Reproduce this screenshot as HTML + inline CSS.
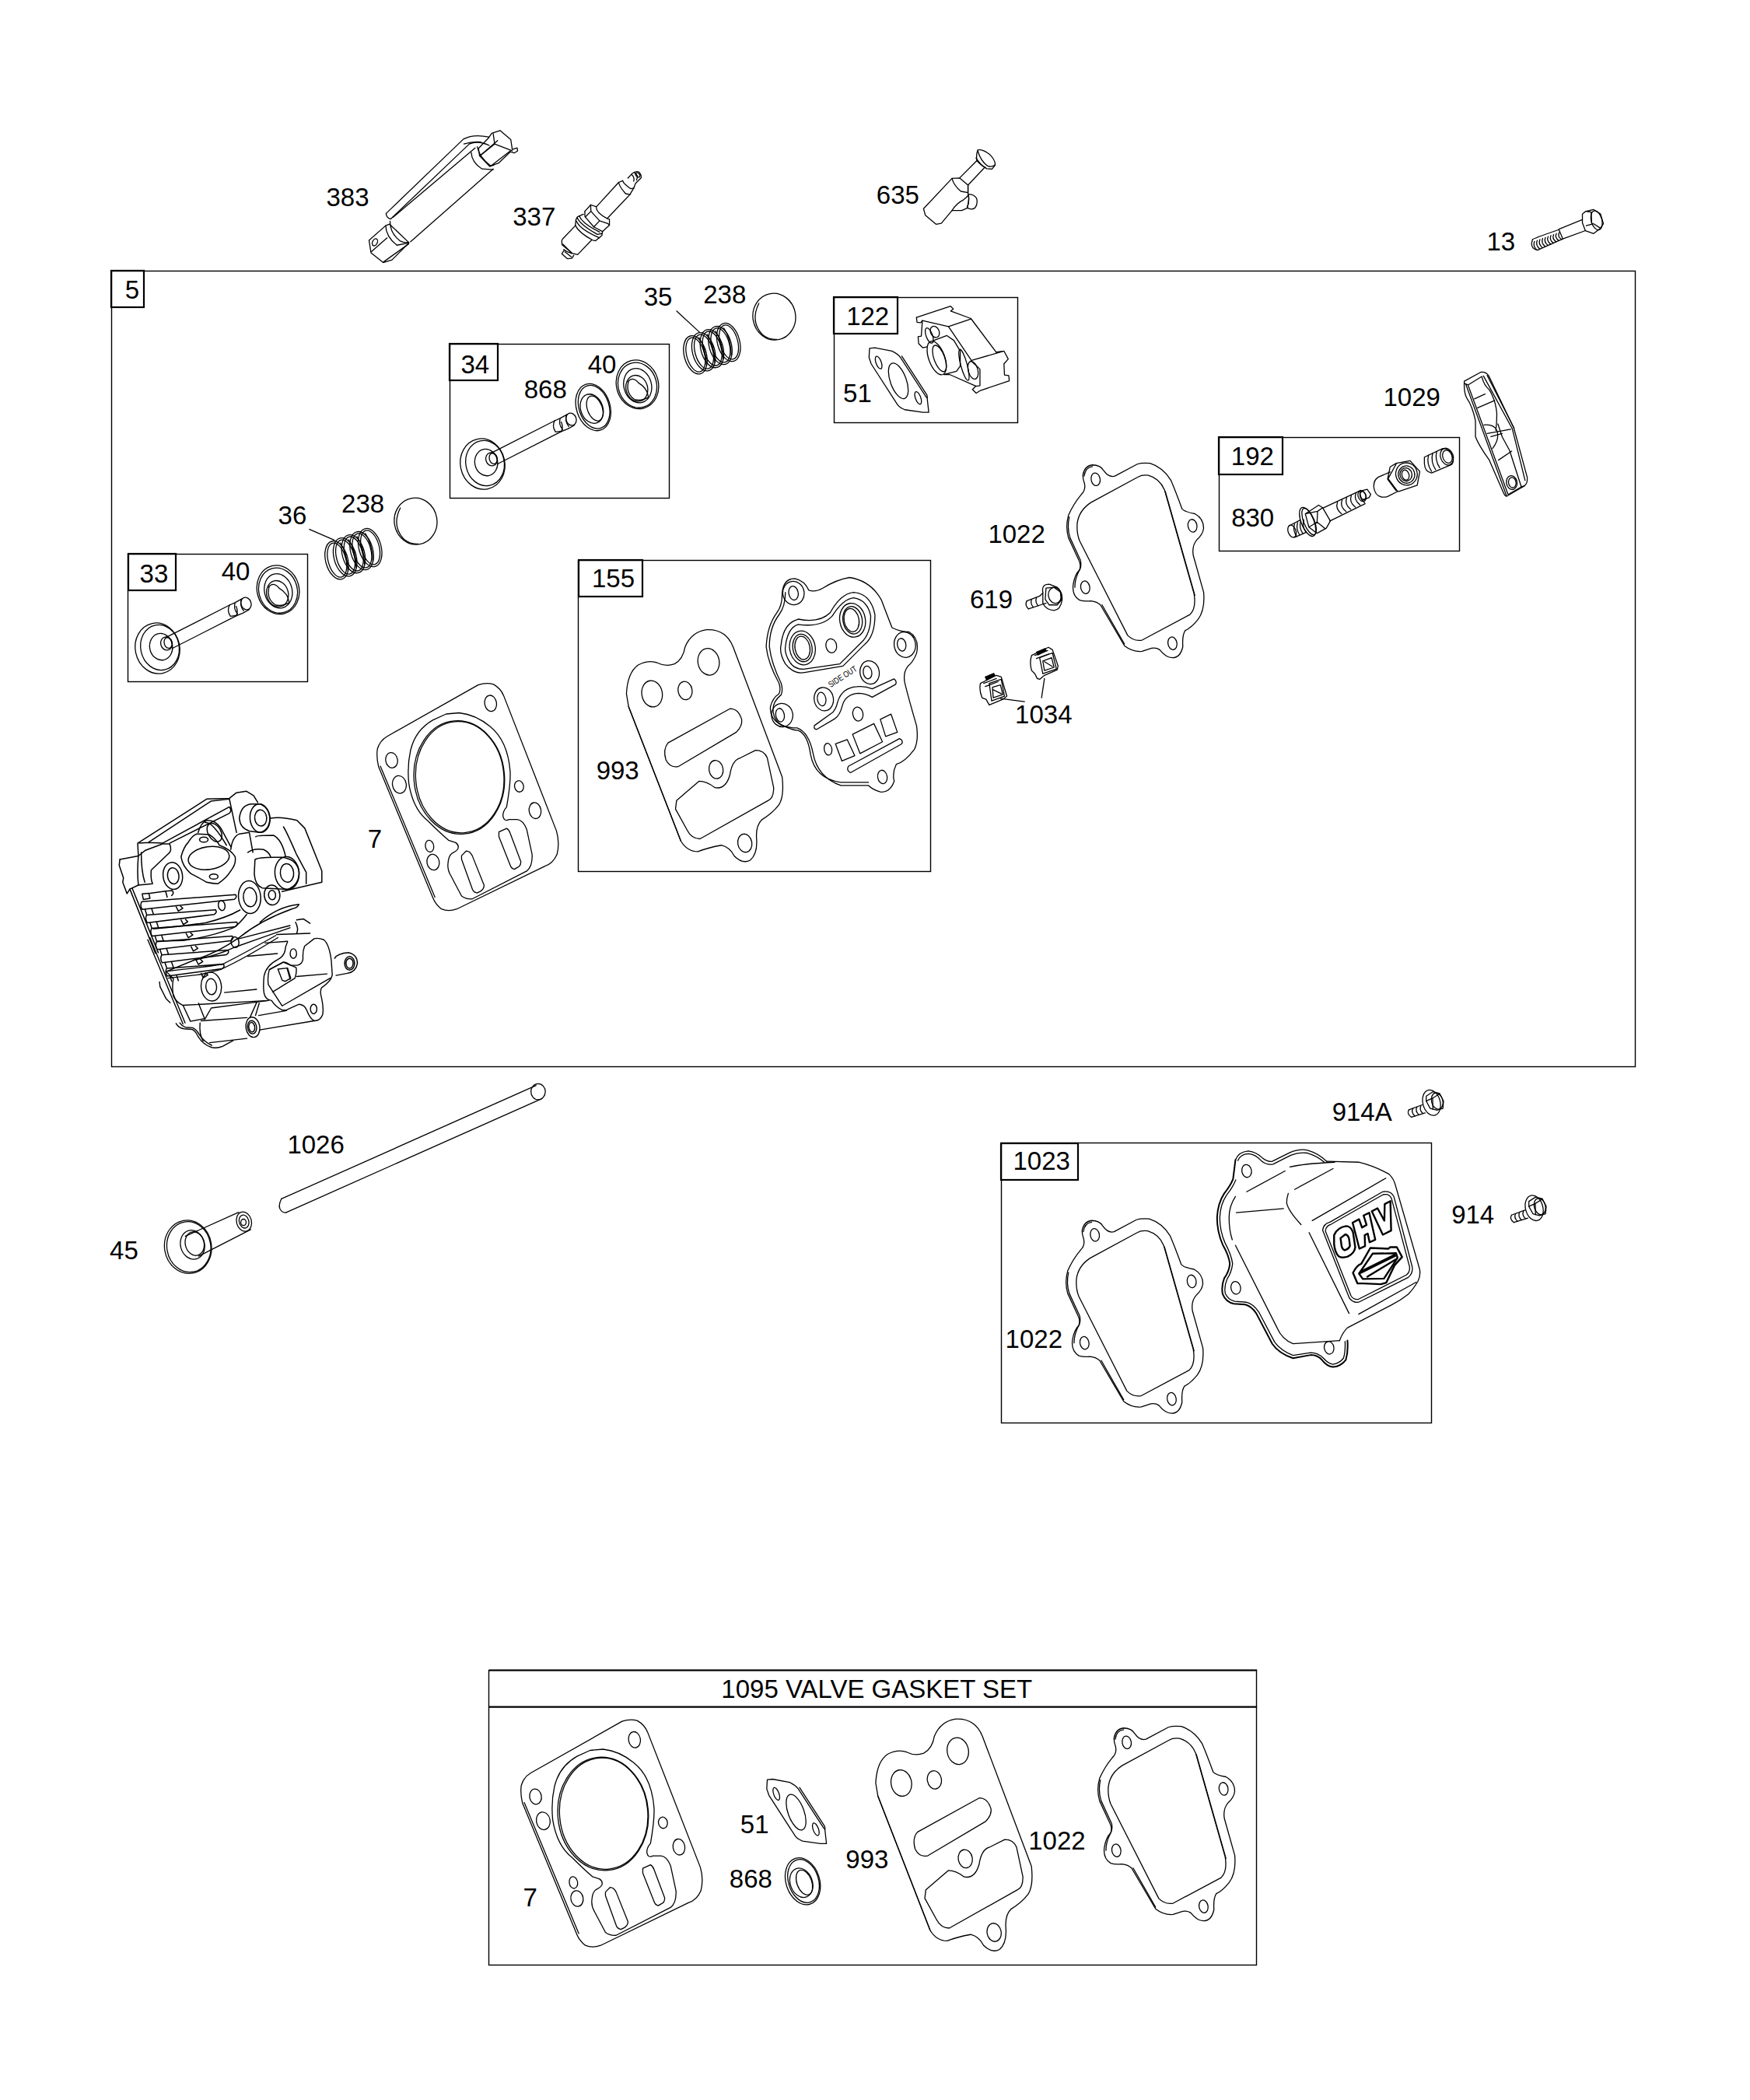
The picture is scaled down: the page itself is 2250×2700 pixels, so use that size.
<!DOCTYPE html><html><head><meta charset="utf-8"><style>html,body{margin:0;padding:0;background:#fff;}svg{display:block;}text{font-family:"Liberation Sans",sans-serif;font-size:33px;fill:#000;}</style></head><body>
<svg width="2250" height="2700" viewBox="0 0 2250 2700">
<rect width="2250" height="2700" fill="#fff"/>
<g fill="none" stroke="#000">
<rect x="143.5" y="348.5" width="1959.0" height="1023.0" stroke-width="1.4"/>
<rect x="143" y="348" width="42" height="47" stroke-width="2.2"/>
<rect x="578.5" y="442.5" width="282.0" height="198.0" stroke-width="1.4"/>
<rect x="578" y="442" width="62" height="47" stroke-width="2.2"/>
<rect x="1072.5" y="382.5" width="236.0" height="161.0" stroke-width="1.4"/>
<rect x="1072" y="382" width="82" height="47" stroke-width="2.2"/>
<rect x="164.5" y="712.5" width="231.0" height="164.0" stroke-width="1.4"/>
<rect x="165" y="712" width="61" height="47" stroke-width="2.2"/>
<rect x="743.5" y="720.5" width="453.0" height="400.0" stroke-width="1.4"/>
<rect x="744" y="720" width="82" height="47" stroke-width="2.2"/>
<rect x="1567.5" y="562.5" width="309.0" height="146.0" stroke-width="1.4"/>
<rect x="1567" y="562" width="82" height="48" stroke-width="2.2"/>
<rect x="1287.5" y="1469.5" width="553.0" height="360.0" stroke-width="1.4"/>
<rect x="1287" y="1470" width="99" height="47" stroke-width="2.2"/>
<rect x="628.5" y="2147.5" width="987" height="379" stroke-width="1.4"/>
<line x1="628.7" y1="2147.5" x2="1616.1" y2="2147.5" stroke-width="2.2"/>
<line x1="628.7" y1="2194.6" x2="1616.1" y2="2194.6" stroke-width="2.4"/>
</g>
<text x="170.0" y="383.7" text-anchor="middle">5</text>
<text x="447.0" y="265.0" text-anchor="middle">383</text>
<text x="686.8" y="289.6" text-anchor="middle">337</text>
<text x="1154.4" y="262.0" text-anchor="middle">635</text>
<text x="1929.8" y="322.0" text-anchor="middle">13</text>
<text x="846.0" y="393.4" text-anchor="middle">35</text>
<text x="931.8" y="390.0" text-anchor="middle">238</text>
<text x="1115.7" y="418.0" text-anchor="middle">122</text>
<text x="1102.4" y="516.6" text-anchor="middle">51</text>
<text x="610.8" y="480.3" text-anchor="middle">34</text>
<text x="701.3" y="512.3" text-anchor="middle">868</text>
<text x="774.0" y="480.0" text-anchor="middle">40</text>
<text x="1815.2" y="521.7" text-anchor="middle">1029</text>
<text x="1610.4" y="597.6" text-anchor="middle">192</text>
<text x="1610.7" y="677.3" text-anchor="middle">830</text>
<text x="375.9" y="674.0" text-anchor="middle">36</text>
<text x="466.6" y="658.6" text-anchor="middle">238</text>
<text x="197.9" y="748.6" text-anchor="middle">33</text>
<text x="303.0" y="746.0" text-anchor="middle">40</text>
<text x="1307.1" y="698.0" text-anchor="middle">1022</text>
<text x="1274.5" y="781.5" text-anchor="middle">619</text>
<text x="788.5" y="754.9" text-anchor="middle">155</text>
<text x="1341.8" y="929.6" text-anchor="middle">1034</text>
<text x="794.2" y="1001.7" text-anchor="middle">993</text>
<text x="482.0" y="1089.7" text-anchor="middle">7</text>
<text x="406.1" y="1482.5" text-anchor="middle">1026</text>
<text x="159.4" y="1618.6" text-anchor="middle">45</text>
<text x="1751.2" y="1440.9" text-anchor="middle">914A</text>
<text x="1339.2" y="1504.2" text-anchor="middle">1023</text>
<text x="1893.7" y="1572.5" text-anchor="middle">914</text>
<text x="1329.3" y="1732.6" text-anchor="middle">1022</text>
<text x="681.6" y="2450.6" text-anchor="middle">7</text>
<text x="970.2" y="2357.3" text-anchor="middle">51</text>
<text x="965.4" y="2426.7" text-anchor="middle">868</text>
<text x="1114.9" y="2402.0" text-anchor="middle">993</text>
<text x="1358.9" y="2378.1" text-anchor="middle">1022</text>
<text x="1127.3" y="2182.5" text-anchor="middle">1095 VALVE GASKET SET</text>
<g transform="translate(460,160) scale(0.125714)" fill="none" stroke="#000" stroke-width="1.3" stroke-linejoin="round" stroke-linecap="round"><path vector-effect="non-scaling-stroke" d="M290,910 L1080,150 Q1180,95 1340,128" /><path vector-effect="non-scaling-stroke" d="M290,910 Q290,950 335,968 L1140,200 Q1230,160 1345,215" /><path vector-effect="non-scaling-stroke" d="M1085,200 Q1180,170 1260,180" /><path vector-effect="non-scaling-stroke" d="M360,950 L1200,240" /><path vector-effect="non-scaling-stroke" d="M540,1200 L1385,455" /><path vector-effect="non-scaling-stroke" d="M330,990 Q330,1110 430,1190 Q480,1215 520,1205" /><path vector-effect="non-scaling-stroke" d="M285,1035 Q290,1150 400,1235 L520,1212" /><path vector-effect="non-scaling-stroke" d="M115,1185 L285,1035 L325,1020 L525,1210 L350,1385 L260,1412 L135,1312 Z" /><path vector-effect="non-scaling-stroke" d="M140,1300 L300,1160" /><path vector-effect="non-scaling-stroke" d="M265,1405 L520,1222" /><ellipse vector-effect="non-scaling-stroke" cx="175" cy="1205" rx="25" ry="38" transform="rotate(25 175 1205)" /><path vector-effect="non-scaling-stroke" d="M1160,285 Q1165,390 1270,455 L1385,462" /><path vector-effect="non-scaling-stroke" d="M1222,228 Q1240,330 1355,420 L1390,418" /><path vector-effect="non-scaling-stroke" d="M1250,320 L1430,165 M1360,425 L1560,270" /><path vector-effect="non-scaling-stroke" d="M1340,135 L1370,90 L1455,62 L1565,155 L1580,255 L1630,240 L1635,270 L1600,292 L1560,280 L1440,395 L1370,420 L1350,430 L1245,320 L1235,245 Z" /><path vector-effect="non-scaling-stroke" d="M1385,95 L1400,200 L1580,270 M1400,200 L1250,320" /></g>
<g transform="translate(710,210) scale(0.074286)" fill="none" stroke="#000" stroke-width="1.3" stroke-linejoin="round" stroke-linecap="round"><path vector-effect="non-scaling-stroke" d="M770,745 L1150,330 L1220,300" /><path vector-effect="non-scaling-stroke" d="M960,945 L1345,540 L1410,430" /><path vector-effect="non-scaling-stroke" d="M1150,330 Q1160,400 1270,525 L1345,540" /><path vector-effect="non-scaling-stroke" d="M1220,300 Q1230,350 1360,440 L1410,430" /><path vector-effect="non-scaling-stroke" d="M1310,255 L1380,180 Q1440,130 1500,150 Q1545,190 1540,250 L1440,350 L1410,430" /><path vector-effect="non-scaling-stroke" d="M1375,195 Q1430,240 1410,310 M1420,160 Q1500,200 1460,290" /><ellipse vector-effect="non-scaling-stroke" cx="1480" cy="200" rx="30" ry="45" transform="rotate(-45 1480 200)" /><path vector-effect="non-scaling-stroke" d="M565,830 L665,720 L760,750 Q760,860 960,960 L990,965 L990,1070 L870,1180" /><path vector-effect="non-scaling-stroke" d="M565,830 L565,920 L720,1100 L870,1180" /><path vector-effect="non-scaling-stroke" d="M665,720 L670,830 L820,995 L960,1040 L990,1070 M820,995 L720,1100 M670,830 L575,925" /><path vector-effect="non-scaling-stroke" d="M400,1075 L410,975 L440,925 L540,880" /><path vector-effect="non-scaling-stroke" d="M400,1075 Q460,1200 700,1330 L750,1340 L860,1250 L870,1180" /><path vector-effect="non-scaling-stroke" d="M430,935 Q480,1060 780,1230 L860,1215" /><path vector-effect="non-scaling-stroke" d="M470,915 Q520,1040 820,1190 M420,1000 Q470,1140 820,1290" /><path vector-effect="non-scaling-stroke" d="M400,1078 L180,1310 L165,1340 L170,1410 L345,1555 L440,1580 L680,1330" /><path vector-effect="non-scaling-stroke" d="M210,1500 L165,1565 L260,1650 L340,1645 L375,1590" /><path vector-effect="non-scaling-stroke" d="M200,1490 Q260,1540 340,1560 M185,1400 L330,1545 M220,1530 L330,1620" /></g>
<g transform="translate(1120,170) scale(0.114286)" fill="none" stroke="#000" stroke-width="1.3" stroke-linejoin="round" stroke-linecap="round"><path vector-effect="non-scaling-stroke" d="M590,860 L910,520 L995,515 L1090,595 L1090,680 M1090,850 L1020,880 L910,880 L790,1025 L730,1035 L610,935 L590,860" /><path vector-effect="non-scaling-stroke" d="M1095,700 Q1150,695 1185,740 Q1205,800 1170,850 Q1130,880 1080,850 M1090,595 L1090,690 Q1110,760 1080,850" /><path vector-effect="non-scaling-stroke" d="M910,520 Q930,600 1010,665 L1090,680" /><path vector-effect="non-scaling-stroke" d="M910,880 Q960,800 1040,760 Q1090,720 1095,700 Q1110,780 1080,850" /><path vector-effect="non-scaling-stroke" d="M995,515 L1190,320 M1090,595 L1270,405" /><path vector-effect="non-scaling-stroke" d="M1190,320 Q1180,250 1200,200 Q1260,190 1340,255 Q1400,320 1395,370 L1360,415 L1300,410 Q1220,360 1190,320" /><path vector-effect="non-scaling-stroke" d="M1180,290 Q1240,380 1290,400 M1200,210 Q1230,320 1310,380 Q1360,395 1390,370" /></g>
<g transform="translate(1900,250) scale(0.125714)" fill="none" stroke="#000" stroke-width="1.3" stroke-linejoin="round" stroke-linecap="round"><path vector-effect="non-scaling-stroke" d="M830,355 L1065,260 M870,455 L1100,370" /><path vector-effect="non-scaling-stroke" d="M560,460 Q570,450 830,360 L870,455 L610,570 Q550,560 550,500 Z" /><path vector-effect="non-scaling-stroke" d="M580,480 Q560,530 605,568" /><path vector-effect="non-scaling-stroke" d="M608,470 Q588,519 633,556" /><path vector-effect="non-scaling-stroke" d="M636,460 Q616,508 661,544" /><path vector-effect="non-scaling-stroke" d="M664,450 Q644,497 689,532" /><path vector-effect="non-scaling-stroke" d="M692,440 Q672,486 717,520" /><path vector-effect="non-scaling-stroke" d="M720,430 Q700,475 745,508" /><path vector-effect="non-scaling-stroke" d="M748,420 Q728,464 773,496" /><path vector-effect="non-scaling-stroke" d="M776,410 Q756,453 801,484" /><path vector-effect="non-scaling-stroke" d="M804,400 Q784,442 829,472" /><path vector-effect="non-scaling-stroke" d="M832,390 Q812,431 857,460" /><path vector-effect="non-scaling-stroke" d="M1070,200 L1100,175 L1185,155 L1255,200 L1285,300 L1250,350 L1185,400 L1100,370 L1070,290 Z" /><ellipse vector-effect="non-scaling-stroke" cx="1215" cy="265" rx="55" ry="100" transform="rotate(-15 1215 265)" /><path vector-effect="non-scaling-stroke" d="M1110,320 L1185,300 L1255,345 M1120,175 L1160,180 L1165,300" /></g>
<g transform="translate(870,400) scale(0.057143)" fill="none" stroke="#000" stroke-width="1.3" stroke-linejoin="round" stroke-linecap="round"><ellipse vector-effect="non-scaling-stroke" cx="420" cy="985" rx="250" ry="440" transform="rotate(-15 420 985)" /><ellipse vector-effect="non-scaling-stroke" cx="426" cy="982" rx="200" ry="395" transform="rotate(-15 426 982)" /><ellipse vector-effect="non-scaling-stroke" cx="607" cy="914" rx="250" ry="440" transform="rotate(-15 607 914)" /><ellipse vector-effect="non-scaling-stroke" cx="613" cy="911" rx="200" ry="395" transform="rotate(-15 613 911)" /><ellipse vector-effect="non-scaling-stroke" cx="794" cy="843" rx="250" ry="440" transform="rotate(-15 794 843)" /><ellipse vector-effect="non-scaling-stroke" cx="800" cy="840" rx="200" ry="395" transform="rotate(-15 800 840)" /><ellipse vector-effect="non-scaling-stroke" cx="981" cy="772" rx="250" ry="440" transform="rotate(-15 981 772)" /><ellipse vector-effect="non-scaling-stroke" cx="987" cy="769" rx="200" ry="395" transform="rotate(-15 987 769)" /><ellipse vector-effect="non-scaling-stroke" cx="1168" cy="701" rx="250" ry="440" transform="rotate(-15 1168 701)" /><ellipse vector-effect="non-scaling-stroke" cx="1174" cy="698" rx="200" ry="395" transform="rotate(-15 1174 698)" /><path vector-effect="non-scaling-stroke" d="M500,595 Q660,825 670,1225" /><path vector-effect="non-scaling-stroke" d="M687,524 Q847,754 857,1154" /><path vector-effect="non-scaling-stroke" d="M874,453 Q1034,683 1044,1083" /><path vector-effect="non-scaling-stroke" d="M1061,382 Q1221,612 1231,1012" /><path vector-effect="non-scaling-stroke" d="M0,0 L510,470" /></g>
<g transform="translate(-461,264)"><g transform="translate(870,400) scale(0.057143)" fill="none" stroke="#000" stroke-width="1.3" stroke-linejoin="round" stroke-linecap="round"><ellipse vector-effect="non-scaling-stroke" cx="420" cy="985" rx="250" ry="440" transform="rotate(-15 420 985)" /><ellipse vector-effect="non-scaling-stroke" cx="426" cy="982" rx="200" ry="395" transform="rotate(-15 426 982)" /><ellipse vector-effect="non-scaling-stroke" cx="607" cy="914" rx="250" ry="440" transform="rotate(-15 607 914)" /><ellipse vector-effect="non-scaling-stroke" cx="613" cy="911" rx="200" ry="395" transform="rotate(-15 613 911)" /><ellipse vector-effect="non-scaling-stroke" cx="794" cy="843" rx="250" ry="440" transform="rotate(-15 794 843)" /><ellipse vector-effect="non-scaling-stroke" cx="800" cy="840" rx="200" ry="395" transform="rotate(-15 800 840)" /><ellipse vector-effect="non-scaling-stroke" cx="981" cy="772" rx="250" ry="440" transform="rotate(-15 981 772)" /><ellipse vector-effect="non-scaling-stroke" cx="987" cy="769" rx="200" ry="395" transform="rotate(-15 987 769)" /><ellipse vector-effect="non-scaling-stroke" cx="1168" cy="701" rx="250" ry="440" transform="rotate(-15 1168 701)" /><ellipse vector-effect="non-scaling-stroke" cx="1174" cy="698" rx="200" ry="395" transform="rotate(-15 1174 698)" /><path vector-effect="non-scaling-stroke" d="M500,595 Q660,825 670,1225" /><path vector-effect="non-scaling-stroke" d="M687,524 Q847,754 857,1154" /><path vector-effect="non-scaling-stroke" d="M874,453 Q1034,683 1044,1083" /><path vector-effect="non-scaling-stroke" d="M1061,382 Q1221,612 1231,1012" /></g></g>
<path d="M397.4,680.4 L430.3,694.6" stroke="#000" stroke-width="1.3" fill="none"/>
<g transform="translate(820,350) scale(0.285714)" fill="none" stroke="#000" stroke-width="1.3" stroke-linejoin="round" stroke-linecap="round"><ellipse vector-effect="non-scaling-stroke" cx="614" cy="200" rx="96" ry="105" transform="rotate(-10 614 200)" /><path vector-effect="non-scaling-stroke" d="M545,140 Q505,220 560,280 Q590,305 625,302" /></g>
<g transform="translate(-461,263)"><g transform="translate(820,350) scale(0.285714)" fill="none" stroke="#000" stroke-width="1.3" stroke-linejoin="round" stroke-linecap="round"><ellipse vector-effect="non-scaling-stroke" cx="614" cy="200" rx="96" ry="105" transform="rotate(-10 614 200)" /><path vector-effect="non-scaling-stroke" d="M545,140 Q505,220 560,280 Q590,305 625,302" /></g></g>
<g transform="translate(585,460) scale(0.154286)" fill="none" stroke="#000" stroke-width="1.3" stroke-linejoin="round" stroke-linecap="round"><ellipse vector-effect="non-scaling-stroke" cx="230" cy="885" rx="185" ry="212" transform="rotate(-12 230 885)" /><ellipse vector-effect="non-scaling-stroke" cx="250" cy="878" rx="160" ry="190" transform="rotate(-12 250 878)" /><ellipse vector-effect="non-scaling-stroke" cx="260" cy="872" rx="95" ry="112" transform="rotate(-10 260 872)" /><ellipse vector-effect="non-scaling-stroke" cx="305" cy="845" rx="48" ry="56" transform="rotate(-15 305 845)" /><ellipse vector-effect="non-scaling-stroke" cx="318" cy="840" rx="32" ry="45" transform="rotate(-15 318 840)" /><path vector-effect="non-scaling-stroke" d="M300,795 L830,525 M355,885 L885,615" /><path vector-effect="non-scaling-stroke" d="M830,525 L875,505 L935,472 M885,615 L940,592 L995,562 M832,522 Q805,570 838,618 L885,612 Q905,580 885,535 M878,503 Q858,555 898,598 M932,472 Q910,525 948,572" /><ellipse vector-effect="non-scaling-stroke" cx="968" cy="512" rx="42" ry="52" transform="rotate(-20 968 512)" /></g>
<g transform="translate(-418,237)"><g transform="translate(585,460) scale(0.154286)" fill="none" stroke="#000" stroke-width="1.3" stroke-linejoin="round" stroke-linecap="round"><ellipse vector-effect="non-scaling-stroke" cx="230" cy="885" rx="185" ry="212" transform="rotate(-12 230 885)" /><ellipse vector-effect="non-scaling-stroke" cx="250" cy="878" rx="160" ry="190" transform="rotate(-12 250 878)" /><ellipse vector-effect="non-scaling-stroke" cx="260" cy="872" rx="95" ry="112" transform="rotate(-10 260 872)" /><ellipse vector-effect="non-scaling-stroke" cx="305" cy="845" rx="48" ry="56" transform="rotate(-15 305 845)" /><ellipse vector-effect="non-scaling-stroke" cx="318" cy="840" rx="32" ry="45" transform="rotate(-15 318 840)" /><path vector-effect="non-scaling-stroke" d="M300,795 L830,525 M355,885 L885,615" /><path vector-effect="non-scaling-stroke" d="M830,525 L875,505 L935,472 M885,615 L940,592 L995,562 M832,522 Q805,570 838,618 L885,612 Q905,580 885,535 M878,503 Q858,555 898,598 M932,472 Q910,525 948,572" /><ellipse vector-effect="non-scaling-stroke" cx="968" cy="512" rx="42" ry="52" transform="rotate(-20 968 512)" /></g></g>
<g transform="translate(585,460) scale(0.154286)" fill="none" stroke="#000" stroke-width="1.3" stroke-linejoin="round" stroke-linecap="round"><ellipse vector-effect="non-scaling-stroke" cx="1152" cy="412" rx="140" ry="200" transform="rotate(-18 1152 412)" /><ellipse vector-effect="non-scaling-stroke" cx="1158" cy="410" rx="125" ry="185" transform="rotate(-18 1158 410)" /><ellipse vector-effect="non-scaling-stroke" cx="1140" cy="425" rx="92" ry="125" transform="rotate(-20 1140 425)" /><ellipse vector-effect="non-scaling-stroke" cx="1165" cy="422" rx="62" ry="108" transform="rotate(-20 1165 422)" /></g>
<g transform="translate(585,460) scale(0.154286)" fill="none" stroke="#000" stroke-width="1.3" stroke-linejoin="round" stroke-linecap="round"><ellipse vector-effect="non-scaling-stroke" cx="1520" cy="222" rx="175" ry="205" transform="rotate(-15 1520 222)" /><ellipse vector-effect="non-scaling-stroke" cx="1520" cy="228" rx="160" ry="190" transform="rotate(-15 1520 228)" /><ellipse vector-effect="non-scaling-stroke" cx="1522" cy="232" rx="115" ry="145" transform="rotate(-15 1522 232)" /><ellipse vector-effect="non-scaling-stroke" cx="1515" cy="255" rx="90" ry="110" transform="rotate(-15 1515 255)" /><path vector-effect="non-scaling-stroke" d="M1440,200 Q1480,150 1530,210 Q1600,250 1610,320 M1445,200 Q1420,300 1500,350 Q1560,360 1610,330" /></g>
<g transform="translate(-462,264)"><g transform="translate(585,460) scale(0.154286)" fill="none" stroke="#000" stroke-width="1.3" stroke-linejoin="round" stroke-linecap="round"><ellipse vector-effect="non-scaling-stroke" cx="1520" cy="222" rx="175" ry="205" transform="rotate(-15 1520 222)" /><ellipse vector-effect="non-scaling-stroke" cx="1520" cy="228" rx="160" ry="190" transform="rotate(-15 1520 228)" /><ellipse vector-effect="non-scaling-stroke" cx="1522" cy="232" rx="115" ry="145" transform="rotate(-15 1522 232)" /><ellipse vector-effect="non-scaling-stroke" cx="1515" cy="255" rx="90" ry="110" transform="rotate(-15 1515 255)" /><path vector-effect="non-scaling-stroke" d="M1440,200 Q1480,150 1530,210 Q1600,250 1610,320 M1445,200 Q1420,300 1500,350 Q1560,360 1610,330" /></g></g>
<g transform="translate(1070,380) scale(0.137143)" fill="none" stroke="#000" stroke-width="1.3" stroke-linejoin="round" stroke-linecap="round"><path vector-effect="non-scaling-stroke" d="M350,495 L400,490 L560,520 Q620,550 640,580 L880,950 L890,960 L905,1095 L850,1095 L680,1070 Q630,1050 610,1020 L365,640 L345,580 Z" /><path vector-effect="non-scaling-stroke" d="M652,568 L888,932 M888,932 L892,958" /><ellipse vector-effect="non-scaling-stroke" cx="435" cy="628" rx="25" ry="62" transform="rotate(-20 435 628)" /><ellipse vector-effect="non-scaling-stroke" cx="620" cy="800" rx="75" ry="175" transform="rotate(-20 620 800)" /><ellipse vector-effect="non-scaling-stroke" cx="805" cy="960" rx="25" ry="62" transform="rotate(-20 805 960)" /><path vector-effect="non-scaling-stroke" d="M790,205 L1110,100 L1135,125 L1110,145 L1300,215 L1540,535" /><path vector-effect="non-scaling-stroke" d="M790,205 L795,250 L830,255 L845,235 L1090,290 L1300,220" /><path vector-effect="non-scaling-stroke" d="M845,235 L835,380 L805,385 L810,450 L850,490 L890,480" /><path vector-effect="non-scaling-stroke" d="M1090,290 L1300,600 M1540,530 L1610,520 L1650,595 L1610,640 L1615,745 L1655,750 L1660,800 L1390,890 L1350,915 L1315,880 L1345,850 L1385,845 L1385,690 L1300,610 L1610,520" /><path vector-effect="non-scaling-stroke" d="M1350,850 L1100,740 L1050,740" /><ellipse vector-effect="non-scaling-stroke" cx="980" cy="585" rx="75" ry="165" transform="rotate(-20 980 585)" /><ellipse vector-effect="non-scaling-stroke" cx="1005" cy="590" rx="50" ry="130" transform="rotate(-20 1005 590)" /><path vector-effect="non-scaling-stroke" d="M940,425 L1075,375 L1140,420 L1200,520 L1200,660 L1165,710 L1050,740" /><ellipse vector-effect="non-scaling-stroke" cx="910" cy="375" rx="30" ry="75" transform="rotate(-20 910 375)" /><ellipse vector-effect="non-scaling-stroke" cx="962" cy="340" rx="40" ry="55" transform="rotate(-25 962 340)" /><ellipse vector-effect="non-scaling-stroke" cx="1235" cy="650" rx="30" ry="150" transform="rotate(-15 1235 650)" /><ellipse vector-effect="non-scaling-stroke" cx="1320" cy="700" rx="45" ry="85" transform="rotate(-15 1320 700)" /></g>
<g transform="translate(730,700) scale(0.274286)" fill="none" stroke="#000" stroke-width="1.3" stroke-linejoin="round" stroke-linecap="round"><path vector-effect="non-scaling-stroke" d="M275,700 Q280,600 330,565 Q380,540 420,555 Q460,575 500,560 Q540,540 550,480 Q580,410 650,400 Q740,395 775,480 L1005,1090 Q1015,1180 990,1220 Q960,1260 910,1290 Q880,1320 885,1380 Q890,1450 855,1480 Q820,1500 780,1460 Q760,1420 720,1410 Q660,1420 610,1440 Q560,1440 530,1390 L285,760 Z" /><path vector-effect="non-scaling-stroke" d="M285,760 L530,1390" /><ellipse vector-effect="non-scaling-stroke" cx="395" cy="700" rx="48" ry="62" transform="rotate(-10 395 700)" /><ellipse vector-effect="non-scaling-stroke" cx="550" cy="685" rx="33" ry="43" transform="rotate(-10 550 685)" /><ellipse vector-effect="non-scaling-stroke" cx="660" cy="550" rx="50" ry="63" transform="rotate(-10 660 550)" /><path vector-effect="non-scaling-stroke" d="M470,930 L760,770 Q800,770 815,820 Q820,850 790,880 L520,1040 Q480,1050 460,1010 Q445,960 470,930 Z" /><path vector-effect="non-scaling-stroke" d="M510,1200 L615,1110 Q650,1110 690,1140 Q740,1150 760,1080 Q770,1010 810,1000 L880,965 Q920,965 935,1000 L965,1140 Q965,1190 940,1200 L620,1380 Q580,1380 560,1340 L505,1240 Z" /><ellipse vector-effect="non-scaling-stroke" cx="695" cy="1055" rx="33" ry="43" transform="rotate(-10 695 1055)" /><ellipse vector-effect="non-scaling-stroke" cx="830" cy="1400" rx="33" ry="43" transform="rotate(-10 830 1400)" /><path vector-effect="non-scaling-stroke" d="M1005,230 Q1010,160 1065,160 Q1110,170 1130,215 Q1160,225 1195,205 Q1260,165 1320,155 Q1420,170 1470,260 Q1500,340 1520,390 Q1560,410 1600,410 Q1650,440 1635,510 Q1620,550 1595,570 Q1570,600 1580,650 Q1600,730 1635,850 Q1645,920 1625,960 Q1580,1020 1540,1030 Q1520,1070 1530,1110 Q1510,1165 1465,1160 Q1430,1150 1410,1130 L1280,1130 Q1170,1090 1150,980 Q1130,880 1075,860 Q1020,860 990,840 Q945,810 950,760 Q960,720 990,700 Q1000,680 990,650 Q940,560 930,480 Q935,380 980,320 Q1005,290 1005,230 Z" /><path vector-effect="non-scaling-stroke" d="M1020,225 Q1020,290 990,330 Q945,390 945,480 Q955,560 1000,650 Q1010,680 1000,705 Q962,735 962,775 Q965,830 1010,850 Q1050,870 1080,872 Q1125,890 1138,985 Q1160,1100 1280,1115 L1410,1115" /><ellipse vector-effect="non-scaling-stroke" cx="1058" cy="228" rx="22" ry="33" transform="rotate(-10 1058 228)" /><ellipse vector-effect="non-scaling-stroke" cx="1058" cy="228" rx="50" ry="55" transform="rotate(-10 1058 228)" /><ellipse vector-effect="non-scaling-stroke" cx="1565" cy="470" rx="20" ry="30" transform="rotate(-10 1565 470)" /><ellipse vector-effect="non-scaling-stroke" cx="1580" cy="470" rx="50" ry="60" transform="rotate(-10 1580 470)" /><ellipse vector-effect="non-scaling-stroke" cx="1405" cy="600" rx="20" ry="30" transform="rotate(-10 1405 600)" /><ellipse vector-effect="non-scaling-stroke" cx="1415" cy="600" rx="45" ry="55" transform="rotate(-10 1415 600)" /><ellipse vector-effect="non-scaling-stroke" cx="1190" cy="725" rx="20" ry="32" transform="rotate(-10 1190 725)" /><ellipse vector-effect="non-scaling-stroke" cx="1200" cy="725" rx="45" ry="55" transform="rotate(-10 1200 725)" /><ellipse vector-effect="non-scaling-stroke" cx="995" cy="800" rx="20" ry="32" transform="rotate(-10 995 800)" /><ellipse vector-effect="non-scaling-stroke" cx="1005" cy="800" rx="50" ry="55" transform="rotate(-10 1005 800)" /><ellipse vector-effect="non-scaling-stroke" cx="1360" cy="795" rx="24" ry="33" transform="rotate(-10 1360 795)" /><ellipse vector-effect="non-scaling-stroke" cx="1220" cy="960" rx="18" ry="28" transform="rotate(-10 1220 960)" /><ellipse vector-effect="non-scaling-stroke" cx="1475" cy="1090" rx="22" ry="32" transform="rotate(-10 1475 1090)" /><path vector-effect="non-scaling-stroke" d="M1000,470 Q1010,370 1080,350 Q1180,370 1230,320 Q1280,230 1340,225 Q1420,230 1440,330 Q1440,430 1390,470 L1290,570 L1110,600 Q1060,610 1020,560 Q990,510 1000,470 Z" /><path vector-effect="non-scaling-stroke" d="M1020,480 Q1030,390 1080,375 Q1190,390 1240,335 Q1290,255 1340,250 Q1405,260 1420,335 Q1420,420 1375,460 L1275,560 L1105,585 Q1060,585 1040,550 Q1015,510 1020,480 Z" /><ellipse vector-effect="non-scaling-stroke" cx="1100" cy="485" rx="60" ry="80" transform="rotate(-10 1100 485)" /><ellipse vector-effect="non-scaling-stroke" cx="1100" cy="485" rx="45" ry="65" transform="rotate(-10 1100 485)" /><ellipse vector-effect="non-scaling-stroke" cx="1100" cy="485" rx="35" ry="55" transform="rotate(-10 1100 485)" /><ellipse vector-effect="non-scaling-stroke" cx="1335" cy="355" rx="60" ry="80" transform="rotate(-10 1335 355)" /><ellipse vector-effect="non-scaling-stroke" cx="1335" cy="355" rx="45" ry="65" transform="rotate(-10 1335 355)" /><ellipse vector-effect="non-scaling-stroke" cx="1330" cy="355" rx="35" ry="55" transform="rotate(-10 1330 355)" /><ellipse vector-effect="non-scaling-stroke" cx="1235" cy="475" rx="25" ry="33" transform="rotate(-10 1235 475)" /><path vector-effect="non-scaling-stroke" d="M1156,849 Q1151,865 1167,867 L1250,818 Q1276,802 1287,755 Q1302,703 1360,698 Q1396,698 1427,716 L1537,656 Q1544,641 1529,630 L1427,677 Q1391,662 1354,667 Q1287,672 1266,735 Q1255,781 1235,792 Z" /><path vector-effect="non-scaling-stroke" d="M1255,935 L1310,915 L1345,990 L1285,1015 Z" /><path vector-effect="non-scaling-stroke" d="M1335,890 L1435,840 L1475,925 L1370,980 Z" /><path vector-effect="non-scaling-stroke" d="M1465,820 L1515,795 L1545,880 L1490,900 Z" /><path vector-effect="non-scaling-stroke" d="M1315,1040 L1555,910 Q1575,920 1565,935 L1325,1070 Q1305,1060 1315,1040 Z" /><text x="0" y="0" transform="translate(1232,672) rotate(-33) scale(0.8,1)" stroke="none" style="font-family:Liberation Sans,sans-serif;fill:#000;font-size:40px">SIDE OUT</text></g>
<g transform="translate(470,870) scale(0.152403)" fill="none" stroke="#000" stroke-width="1.3" stroke-linejoin="round" stroke-linecap="round"><path vector-effect="non-scaling-stroke" d="M180,505 L950,70 Q1020,45 1080,65 Q1140,100 1165,160 L1610,1300 Q1640,1400 1615,1500 Q1580,1580 1510,1600 L770,1960 Q700,1985 640,1960 Q590,1920 570,1870 L110,760 Q90,680 100,610 Q120,540 180,505 Z" /><path vector-effect="non-scaling-stroke" d="M125,755 L585,1860" /><path vector-effect="non-scaling-stroke" d="M1190,1100 Q1225,900 1220,800 Q1200,540 1050,420 Q930,320 790,305 L680,315 L570,365 Q420,450 380,620 Q350,750 365,900 Q400,1120 530,1220 Q620,1310 700,1380 L760,1400 Q790,1420 780,1450 Q770,1470 730,1490 Q700,1510 695,1580 Q690,1630 720,1680 L810,1850 Q850,1880 900,1875 L1360,1640 Q1410,1600 1405,1500 L1360,1290 Q1330,1210 1280,1205 L1210,1205 Q1170,1225 1160,1180 Q1155,1140 1190,1100 Z" /><ellipse vector-effect="non-scaling-stroke" cx="790" cy="850" rx="382" ry="478" transform="rotate(-5 790 850)" /><ellipse vector-effect="non-scaling-stroke" cx="795" cy="848" rx="372" ry="470" transform="rotate(-5 795 848)" /><ellipse vector-effect="non-scaling-stroke" cx="1055" cy="225" rx="50" ry="68" transform="rotate(-10 1055 225)" /><ellipse vector-effect="non-scaling-stroke" cx="220" cy="705" rx="50" ry="65" transform="rotate(-10 220 705)" /><ellipse vector-effect="non-scaling-stroke" cx="285" cy="910" rx="58" ry="75" transform="rotate(-10 285 910)" /><ellipse vector-effect="non-scaling-stroke" cx="1295" cy="925" rx="38" ry="48" transform="rotate(-10 1295 925)" /><ellipse vector-effect="non-scaling-stroke" cx="1430" cy="1130" rx="50" ry="68" transform="rotate(-10 1430 1130)" /><ellipse vector-effect="non-scaling-stroke" cx="540" cy="1430" rx="35" ry="50" transform="rotate(-10 540 1430)" /><ellipse vector-effect="non-scaling-stroke" cx="570" cy="1565" rx="52" ry="67" transform="rotate(-10 570 1565)" /><path vector-effect="non-scaling-stroke" d="M810,1510 L850,1470 Q880,1470 900,1510 L1000,1760 Q1000,1790 970,1810 L940,1825 Q910,1820 900,1790 L810,1540 Z" /><path vector-effect="non-scaling-stroke" d="M1125,1310 L1190,1280 Q1210,1290 1220,1320 L1310,1560 Q1310,1600 1280,1610 L1255,1625 Q1230,1620 1220,1590 L1125,1350 Z" /></g>
<g transform="translate(185,1332.5)"><g transform="translate(470,870) scale(0.152403)" fill="none" stroke="#000" stroke-width="1.3" stroke-linejoin="round" stroke-linecap="round"><path vector-effect="non-scaling-stroke" d="M180,505 L950,70 Q1020,45 1080,65 Q1140,100 1165,160 L1610,1300 Q1640,1400 1615,1500 Q1580,1580 1510,1600 L770,1960 Q700,1985 640,1960 Q590,1920 570,1870 L110,760 Q90,680 100,610 Q120,540 180,505 Z" /><path vector-effect="non-scaling-stroke" d="M125,755 L585,1860" /><path vector-effect="non-scaling-stroke" d="M1190,1100 Q1225,900 1220,800 Q1200,540 1050,420 Q930,320 790,305 L680,315 L570,365 Q420,450 380,620 Q350,750 365,900 Q400,1120 530,1220 Q620,1310 700,1380 L760,1400 Q790,1420 780,1450 Q770,1470 730,1490 Q700,1510 695,1580 Q690,1630 720,1680 L810,1850 Q850,1880 900,1875 L1360,1640 Q1410,1600 1405,1500 L1360,1290 Q1330,1210 1280,1205 L1210,1205 Q1170,1225 1160,1180 Q1155,1140 1190,1100 Z" /><ellipse vector-effect="non-scaling-stroke" cx="790" cy="850" rx="382" ry="478" transform="rotate(-5 790 850)" /><ellipse vector-effect="non-scaling-stroke" cx="795" cy="848" rx="372" ry="470" transform="rotate(-5 795 848)" /><ellipse vector-effect="non-scaling-stroke" cx="1055" cy="225" rx="50" ry="68" transform="rotate(-10 1055 225)" /><ellipse vector-effect="non-scaling-stroke" cx="220" cy="705" rx="50" ry="65" transform="rotate(-10 220 705)" /><ellipse vector-effect="non-scaling-stroke" cx="285" cy="910" rx="58" ry="75" transform="rotate(-10 285 910)" /><ellipse vector-effect="non-scaling-stroke" cx="1295" cy="925" rx="38" ry="48" transform="rotate(-10 1295 925)" /><ellipse vector-effect="non-scaling-stroke" cx="1430" cy="1130" rx="50" ry="68" transform="rotate(-10 1430 1130)" /><ellipse vector-effect="non-scaling-stroke" cx="540" cy="1430" rx="35" ry="50" transform="rotate(-10 540 1430)" /><ellipse vector-effect="non-scaling-stroke" cx="570" cy="1565" rx="52" ry="67" transform="rotate(-10 570 1565)" /><path vector-effect="non-scaling-stroke" d="M810,1510 L850,1470 Q880,1470 900,1510 L1000,1760 Q1000,1790 970,1810 L940,1825 Q910,1820 900,1790 L810,1540 Z" /><path vector-effect="non-scaling-stroke" d="M1125,1310 L1190,1280 Q1210,1290 1220,1320 L1310,1560 Q1310,1600 1280,1610 L1255,1625 Q1230,1620 1220,1590 L1125,1350 Z" /></g></g>
<g transform="translate(320.5,1400.5)"><g transform="translate(730,700) scale(0.274286)" fill="none" stroke="#000" stroke-width="1.3" stroke-linejoin="round" stroke-linecap="round"><path vector-effect="non-scaling-stroke" d="M275,700 Q280,600 330,565 Q380,540 420,555 Q460,575 500,560 Q540,540 550,480 Q580,410 650,400 Q740,395 775,480 L1005,1090 Q1015,1180 990,1220 Q960,1260 910,1290 Q880,1320 885,1380 Q890,1450 855,1480 Q820,1500 780,1460 Q760,1420 720,1410 Q660,1420 610,1440 Q560,1440 530,1390 L285,760 Z" /><path vector-effect="non-scaling-stroke" d="M285,760 L530,1390" /><ellipse vector-effect="non-scaling-stroke" cx="395" cy="700" rx="48" ry="62" transform="rotate(-10 395 700)" /><ellipse vector-effect="non-scaling-stroke" cx="550" cy="685" rx="33" ry="43" transform="rotate(-10 550 685)" /><ellipse vector-effect="non-scaling-stroke" cx="660" cy="550" rx="50" ry="63" transform="rotate(-10 660 550)" /><path vector-effect="non-scaling-stroke" d="M470,930 L760,770 Q800,770 815,820 Q820,850 790,880 L520,1040 Q480,1050 460,1010 Q445,960 470,930 Z" /><path vector-effect="non-scaling-stroke" d="M510,1200 L615,1110 Q650,1110 690,1140 Q740,1150 760,1080 Q770,1010 810,1000 L880,965 Q920,965 935,1000 L965,1140 Q965,1190 940,1200 L620,1380 Q580,1380 560,1340 L505,1240 Z" /><ellipse vector-effect="non-scaling-stroke" cx="695" cy="1055" rx="33" ry="43" transform="rotate(-10 695 1055)" /><ellipse vector-effect="non-scaling-stroke" cx="830" cy="1400" rx="33" ry="43" transform="rotate(-10 830 1400)" /></g></g>
<g transform="translate(145,1010) scale(0.182857)" fill="none" stroke="#000" stroke-width="1.5" stroke-linejoin="round" stroke-linecap="round"><path vector-effect="non-scaling-stroke" d="M120,728 L300,1180 M136,720 L320,1175" /><path vector-effect="non-scaling-stroke" d="M50,520 L180,495 L175,405 L660,95 L820,90 L870,50 L940,40 L990,70 L1020,120" /><path vector-effect="non-scaling-stroke" d="M50,520 L45,560 L75,650 L70,680 L100,760 L120,728 L180,700" /><path vector-effect="non-scaling-stroke" d="M185,405 L250,400 L690,110 L820,95 L870,330 M250,400 L350,405 L820,150 Q840,175 820,195 L400,405" /><path vector-effect="non-scaling-stroke" d="M180,495 L230,455 L350,410 L400,410 Q420,460 390,480 L270,595 Q265,660 280,690 L180,700 Q170,600 180,495 M200,470 Q200,600 225,680" /><path vector-effect="non-scaling-stroke" d="M480,500 Q500,430 530,400 Q560,350 590,340 L680,345 Q730,380 750,420 Q830,450 860,500 Q870,550 830,600 Q800,650 740,690 Q700,690 660,680 Q610,650 550,620 Q490,570 480,500 Z" /><ellipse vector-effect="non-scaling-stroke" cx="675" cy="510" rx="145" ry="80" transform="rotate(-8 675 510)" /><ellipse vector-effect="non-scaling-stroke" cx="640" cy="380" rx="30" ry="18" /><ellipse vector-effect="non-scaling-stroke" cx="710" cy="640" rx="30" ry="18" /><path vector-effect="non-scaling-stroke" d="M600,330 Q620,260 660,245 Q720,240 760,300 L830,430 M650,260 Q700,250 800,420" /><ellipse vector-effect="non-scaling-stroke" cx="715" cy="330" rx="45" ry="70" transform="rotate(-30 715 330)" /><ellipse vector-effect="non-scaling-stroke" cx="422" cy="635" rx="68" ry="95" transform="rotate(-8 422 635)" /><ellipse vector-effect="non-scaling-stroke" cx="425" cy="635" rx="40" ry="57" transform="rotate(-8 425 635)" /><path vector-effect="non-scaling-stroke" d="M890,230 Q900,140 970,130 L1040,130 Q1100,160 1105,230 Q1100,320 1030,330 L960,320 Q895,300 890,230 Z" /><ellipse vector-effect="non-scaling-stroke" cx="1035" cy="230" rx="70" ry="100" transform="rotate(-5 1035 230)" /><ellipse vector-effect="non-scaling-stroke" cx="1040" cy="228" rx="42" ry="57" transform="rotate(-5 1040 228)" /><path vector-effect="non-scaling-stroke" d="M1110,230 Q1180,215 1295,245 L1350,300 L1470,600 L1470,680 L1190,745" /><path vector-effect="non-scaling-stroke" d="M1200,290 Q1220,320 1290,480 L1360,610 L1360,690 M1005,360 Q1010,350 1130,350 Q1190,380 1215,500" /><path vector-effect="non-scaling-stroke" d="M830,450 Q840,360 890,340 L960,330 L985,470 M950,470 Q990,440 1060,450 Q1100,470 1110,500" /><path vector-effect="non-scaling-stroke" d="M1000,520 Q1030,500 1190,505 Q1300,520 1310,610 Q1310,700 1230,730 L1050,720 Q1000,700 995,620 Z" /><ellipse vector-effect="non-scaling-stroke" cx="1225" cy="615" rx="85" ry="115" transform="rotate(-5 1225 615)" /><ellipse vector-effect="non-scaling-stroke" cx="1225" cy="615" rx="47" ry="65" transform="rotate(-5 1225 615)" /><ellipse vector-effect="non-scaling-stroke" cx="962" cy="785" rx="78" ry="115" transform="rotate(-5 962 785)" /><ellipse vector-effect="non-scaling-stroke" cx="965" cy="785" rx="47" ry="67" transform="rotate(-5 965 785)" /><ellipse vector-effect="non-scaling-stroke" cx="1120" cy="770" rx="55" ry="70" transform="rotate(-5 1120 770)" /><ellipse vector-effect="non-scaling-stroke" cx="1120" cy="770" rx="25" ry="33" transform="rotate(-5 1120 770)" /><path vector-effect="non-scaling-stroke" d="M1560,1215 Q1580,1180 1660,1175 Q1720,1190 1720,1250 Q1710,1310 1650,1320 L1570,1335" /><ellipse vector-effect="non-scaling-stroke" cx="1665" cy="1250" rx="35" ry="48" /><ellipse vector-effect="non-scaling-stroke" cx="1665" cy="1250" rx="25" ry="35" /></g>
<g transform="translate(190,1200) scale(0.137143)" fill="none" stroke="#000" stroke-width="1.4" stroke-linejoin="round" stroke-linecap="round"><path vector-effect="non-scaling-stroke" d="M0,60 L330,850 M20,40 L350,840 M110,455 L115,500 L170,610 L210,650" /><path vector-effect="non-scaling-stroke" d="M265,845 Q290,890 340,895 L415,900 Q445,915 465,955 Q510,1040 600,1070 Q650,1080 700,1060 L800,1005" /><path vector-effect="non-scaling-stroke" d="M300,840 Q320,870 350,880 L420,885 Q455,900 480,945 Q530,1020 600,1050" /><path vector-effect="non-scaling-stroke" d="M500,820 L930,790 M1040,770 L1300,725 M580,1025 L930,985 M1050,905 L1560,820 M490,840 Q480,950 520,1010" /><ellipse vector-effect="non-scaling-stroke" cx="985" cy="880" rx="65" ry="95" transform="rotate(-8 985 880)" /><ellipse vector-effect="non-scaling-stroke" cx="978" cy="880" rx="42" ry="62" transform="rotate(-8 978 880)" /><ellipse vector-effect="non-scaling-stroke" cx="975" cy="880" rx="28" ry="45" transform="rotate(-8 975 880)" /><path vector-effect="non-scaling-stroke" d="M330,675 L400,825 L530,800 M475,655 L535,805 L595,700 L1130,630 M960,785 L1020,650 M1010,770 L1045,655" /><path vector-effect="non-scaling-stroke" d="M175,360 L240,425 Q225,500 240,590 Q270,650 330,675 L1130,630" /><ellipse vector-effect="non-scaling-stroke" cx="595" cy="500" rx="95" ry="135" transform="rotate(-5 595 500)" /><ellipse vector-effect="non-scaling-stroke" cx="595" cy="500" rx="50" ry="75" transform="rotate(-5 595 500)" /><path vector-effect="non-scaling-stroke" d="M180,355 Q500,320 700,290 Q900,190 1200,20 M190,420 L500,385 L680,340 Q900,240 1220,40" /><path vector-effect="non-scaling-stroke" d="M720,555 L1020,525 M935,215 L1215,190 M1395,405 L1680,380 M1100,90 L1310,75" /><path vector-effect="non-scaling-stroke" d="M1310,80 Q1290,120 1285,170 Q1270,220 1220,245 Q1110,300 1090,400 Q1080,500 1090,560 Q1100,620 1160,630 Q1200,690 1260,720 L1300,720 Q1380,680 1420,665 Q1470,670 1490,720 Q1520,800 1560,820 Q1620,820 1640,760 Q1650,700 1630,610 Q1610,540 1630,510 Q1720,450 1730,390 L1720,250 Q1700,100 1650,60 Q1600,40 1560,50 L1470,120 Q1450,170 1455,240 Q1450,290 1400,300 L1340,300 Q1300,270 1270,270 L1140,340 Q1120,400 1130,480 L1260,680 L1710,420" /><path vector-effect="non-scaling-stroke" d="M1140,340 L1270,270 L1390,320 Q1400,360 1380,420 L1300,470 L1170,550" /><path vector-effect="non-scaling-stroke" d="M1220,335 L1310,325 L1340,420 L1290,450 L1260,440 Z M1305,325 L1335,430" /><ellipse vector-effect="non-scaling-stroke" cx="1365" cy="190" rx="30" ry="45" /><ellipse vector-effect="non-scaling-stroke" cx="1555" cy="710" rx="30" ry="45" /></g>
<g transform="translate(150,1120) scale(0.142857)" fill="none" stroke="#000" stroke-width="1.5" stroke-linejoin="round" stroke-linecap="round"><path vector-effect="non-scaling-stroke" d="M225,275 L1070,212 Q1088,234 1058,254 L230,345 Q207,310 225,275 Z" /><path vector-effect="non-scaling-stroke" d="M255,345 L270,390 M315,340 L330,385 M535,320 L555,360 L595,335 L575,315" /><path vector-effect="non-scaling-stroke" d="M270,395 L890,348 Q908,370 878,390 L275,465 Q252,430 270,395 Z" /><path vector-effect="non-scaling-stroke" d="M300,465 L315,510 M360,460 L375,505 M580,440 L600,480 L640,455 L620,435" /><path vector-effect="non-scaling-stroke" d="M315,515 L1080,458 Q1098,480 1068,500 L320,585 Q297,550 315,515 Z" /><path vector-effect="non-scaling-stroke" d="M345,585 L360,630 M405,580 L420,625 M625,560 L645,600 L685,575 L665,555" /><path vector-effect="non-scaling-stroke" d="M360,635 L1040,584 Q1058,606 1028,626 L365,705 Q342,670 360,635 Z" /><path vector-effect="non-scaling-stroke" d="M390,705 L405,750 M450,700 L465,745 M670,680 L690,720 L730,695 L710,675" /><path vector-effect="non-scaling-stroke" d="M405,755 L1000,710 Q1018,732 988,752 L410,825 Q387,790 405,755 Z" /><path vector-effect="non-scaling-stroke" d="M435,825 L450,870 M495,820 L510,865 M715,800 L735,840 L775,815 L755,795" /><path vector-effect="non-scaling-stroke" d="M450,875 L960,837 Q978,859 948,879 L455,945 Q432,910 450,875 Z" /><path vector-effect="non-scaling-stroke" d="M480,945 L495,990 M540,940 L555,985 M760,920 L780,960 L820,935 L800,915" /><path vector-effect="non-scaling-stroke" d="M1110,350 Q990,420 800,465 Q600,495 330,520" /><path vector-effect="non-scaling-stroke" d="M1170,390 Q1100,480 1050,510 Q850,590 600,625 L370,630" /><path vector-effect="non-scaling-stroke" d="M1640,300 Q1630,330 1580,340 Q1300,440 1100,600 M1640,300 Q1450,320 1290,460 M1100,600 Q900,740 700,800 L455,900" /><path vector-effect="non-scaling-stroke" d="M1560,490 L1095,610 M1560,510 Q1300,600 1050,690 Q900,760 700,800" /><ellipse vector-effect="non-scaling-stroke" cx="1065" cy="640" rx="35" ry="48" transform="rotate(-10 1065 640)" /><ellipse vector-effect="non-scaling-stroke" cx="945" cy="310" rx="30" ry="45" transform="rotate(-10 945 310)" /><path vector-effect="non-scaling-stroke" d="M1620,440 L1680,430 L1740,470 M1610,460 Q1640,520 1620,560 M1440,570 L1740,560" /><path vector-effect="non-scaling-stroke" d="M230,205 L290,200 L300,245 L240,255 Z M300,200 L440,180 L455,235 M440,180 L500,175 Q520,200 495,220" /></g>
<g transform="translate(1240,570) scale(0.205714)" fill="none" stroke="#000" stroke-width="1.3" stroke-linejoin="round" stroke-linecap="round"><path vector-effect="non-scaling-stroke" d="M740,200 Q750,140 800,135 Q850,135 870,170 Q900,215 940,205 L1080,130 Q1110,120 1160,125 Q1240,150 1290,230 Q1320,300 1360,410 Q1380,430 1440,440 Q1495,470 1495,530 Q1490,570 1455,600 Q1420,640 1430,700 L1495,930 Q1505,1040 1460,1100 Q1420,1150 1380,1170 Q1360,1200 1365,1270 Q1350,1340 1300,1340 Q1260,1340 1220,1290 Q1200,1275 1170,1280 L1110,1300 Q1050,1305 1000,1265 L850,1010 Q830,990 790,985 Q750,990 720,980 Q670,950 680,880 Q690,820 720,790 Q730,760 715,730 L650,590 Q630,520 650,450 Q680,380 730,320 Q760,290 750,250 Q740,220 740,200 Z" /><path vector-effect="non-scaling-stroke" d="M748,205 Q755,150 800,145 M655,460 Q640,530 660,590 L725,730 Q735,770 715,800 Q690,850 690,900" /><path vector-effect="non-scaling-stroke" d="M860,1010 L1000,1255" /><path vector-effect="non-scaling-stroke" d="M790,370 L1085,210 Q1110,195 1150,200 Q1220,220 1250,290 L1435,940 Q1450,1030 1410,1070 L1110,1230 Q1060,1240 1020,1200 L720,610 Q700,560 705,500 Q715,420 790,370 Z" /><path vector-effect="non-scaling-stroke" d="M1255,300 L1440,950" /><ellipse vector-effect="non-scaling-stroke" cx="820" cy="225" rx="28" ry="40" transform="rotate(-10 820 225)" /><ellipse vector-effect="non-scaling-stroke" cx="1425" cy="515" rx="28" ry="40" transform="rotate(-10 1425 515)" /><ellipse vector-effect="non-scaling-stroke" cx="755" cy="900" rx="28" ry="40" transform="rotate(-10 755 900)" /><ellipse vector-effect="non-scaling-stroke" cx="1300" cy="1250" rx="28" ry="40" transform="rotate(-10 1300 1250)" /></g>
<g transform="translate(-1,971.5)"><g transform="translate(1240,570) scale(0.205714)" fill="none" stroke="#000" stroke-width="1.3" stroke-linejoin="round" stroke-linecap="round"><path vector-effect="non-scaling-stroke" d="M740,200 Q750,140 800,135 Q850,135 870,170 Q900,215 940,205 L1080,130 Q1110,120 1160,125 Q1240,150 1290,230 Q1320,300 1360,410 Q1380,430 1440,440 Q1495,470 1495,530 Q1490,570 1455,600 Q1420,640 1430,700 L1495,930 Q1505,1040 1460,1100 Q1420,1150 1380,1170 Q1360,1200 1365,1270 Q1350,1340 1300,1340 Q1260,1340 1220,1290 Q1200,1275 1170,1280 L1110,1300 Q1050,1305 1000,1265 L850,1010 Q830,990 790,985 Q750,990 720,980 Q670,950 680,880 Q690,820 720,790 Q730,760 715,730 L650,590 Q630,520 650,450 Q680,380 730,320 Q760,290 750,250 Q740,220 740,200 Z" /><path vector-effect="non-scaling-stroke" d="M748,205 Q755,150 800,145 M655,460 Q640,530 660,590 L725,730 Q735,770 715,800 Q690,850 690,900" /><path vector-effect="non-scaling-stroke" d="M860,1010 L1000,1255" /><path vector-effect="non-scaling-stroke" d="M790,370 L1085,210 Q1110,195 1150,200 Q1220,220 1250,290 L1435,940 Q1450,1030 1410,1070 L1110,1230 Q1060,1240 1020,1200 L720,610 Q700,560 705,500 Q715,420 790,370 Z" /><path vector-effect="non-scaling-stroke" d="M1255,300 L1440,950" /><ellipse vector-effect="non-scaling-stroke" cx="820" cy="225" rx="28" ry="40" transform="rotate(-10 820 225)" /><ellipse vector-effect="non-scaling-stroke" cx="1425" cy="515" rx="28" ry="40" transform="rotate(-10 1425 515)" /><ellipse vector-effect="non-scaling-stroke" cx="755" cy="900" rx="28" ry="40" transform="rotate(-10 755 900)" /><ellipse vector-effect="non-scaling-stroke" cx="1300" cy="1250" rx="28" ry="40" transform="rotate(-10 1300 1250)" /></g></g>
<g transform="translate(40,1624)"><g transform="translate(1240,570) scale(0.205714)" fill="none" stroke="#000" stroke-width="1.3" stroke-linejoin="round" stroke-linecap="round"><path vector-effect="non-scaling-stroke" d="M740,200 Q750,140 800,135 Q850,135 870,170 Q900,215 940,205 L1080,130 Q1110,120 1160,125 Q1240,150 1290,230 Q1320,300 1360,410 Q1380,430 1440,440 Q1495,470 1495,530 Q1490,570 1455,600 Q1420,640 1430,700 L1495,930 Q1505,1040 1460,1100 Q1420,1150 1380,1170 Q1360,1200 1365,1270 Q1350,1340 1300,1340 Q1260,1340 1220,1290 Q1200,1275 1170,1280 L1110,1300 Q1050,1305 1000,1265 L850,1010 Q830,990 790,985 Q750,990 720,980 Q670,950 680,880 Q690,820 720,790 Q730,760 715,730 L650,590 Q630,520 650,450 Q680,380 730,320 Q760,290 750,250 Q740,220 740,200 Z" /><path vector-effect="non-scaling-stroke" d="M748,205 Q755,150 800,145 M655,460 Q640,530 660,590 L725,730 Q735,770 715,800 Q690,850 690,900" /><path vector-effect="non-scaling-stroke" d="M860,1010 L1000,1255" /><path vector-effect="non-scaling-stroke" d="M790,370 L1085,210 Q1110,195 1150,200 Q1220,220 1250,290 L1435,940 Q1450,1030 1410,1070 L1110,1230 Q1060,1240 1020,1200 L720,610 Q700,560 705,500 Q715,420 790,370 Z" /><path vector-effect="non-scaling-stroke" d="M1255,300 L1440,950" /><ellipse vector-effect="non-scaling-stroke" cx="820" cy="225" rx="28" ry="40" transform="rotate(-10 820 225)" /><ellipse vector-effect="non-scaling-stroke" cx="1425" cy="515" rx="28" ry="40" transform="rotate(-10 1425 515)" /><ellipse vector-effect="non-scaling-stroke" cx="755" cy="900" rx="28" ry="40" transform="rotate(-10 755 900)" /><ellipse vector-effect="non-scaling-stroke" cx="1300" cy="1250" rx="28" ry="40" transform="rotate(-10 1300 1250)" /></g></g>
<g transform="translate(1240,570) scale(0.205714)" fill="none" stroke="#000" stroke-width="1.3" stroke-linejoin="round" stroke-linecap="round"><path vector-effect="non-scaling-stroke" d="M390,985 L470,955 L490,935 M400,1035 L490,1005 L510,1000" /><path vector-effect="non-scaling-stroke" d="M390,985 Q375,1010 400,1035 M420,975 Q410,1000 430,1025 M450,965 Q440,990 460,1015" /><path vector-effect="non-scaling-stroke" d="M490,930 Q480,880 530,880 L580,900 Q615,930 610,980 Q600,1040 560,1045 Q510,1040 490,1000 Z" /><path vector-effect="non-scaling-stroke" d="M510,905 L560,900 L600,930 L605,980 L580,1010 L530,1010 L505,975 Z" /><ellipse vector-effect="non-scaling-stroke" cx="565" cy="950" rx="40" ry="50" transform="rotate(-10 565 950)" /></g>
<g transform="translate(1240,570) scale(0.205714)" fill="none" stroke="#000" stroke-width="1.3" stroke-linejoin="round" stroke-linecap="round"><path vector-effect="non-scaling-stroke" d="M100,1500 L200,1450 L230,1460 L265,1580 L240,1600 L155,1635 L135,1600 L110,1590 Q90,1540 100,1500 Z" /><path vector-effect="non-scaling-stroke" d="M155,1500 L230,1475 L250,1580 L170,1610 Z M175,1525 L225,1510 L240,1570 L180,1590 Z M180,1540 L230,1565 M120,1500 L200,1470 M130,1520 L210,1490" /><path vector-effect="non-scaling-stroke" d="M420,1325 L525,1275 L550,1290 L585,1390 L580,1415 L500,1450 L470,1475 L455,1470 L440,1440 L420,1420 Q405,1370 420,1325 Z" /><path vector-effect="non-scaling-stroke" d="M470,1340 L550,1310 L575,1410 L490,1440 Z M490,1360 L545,1340 L560,1400 L500,1420 Z M500,1365 L550,1395 M440,1325 L520,1295 M450,1345 L530,1315" /><path vector-effect="non-scaling-stroke" d="M225,1595 L375,1615 M482,1590 L500,1470" /></g>
<g transform="translate(1650,570) scale(0.131429)" fill="none" stroke="#000" stroke-width="1.3" stroke-linejoin="round" stroke-linecap="round"><path vector-effect="non-scaling-stroke" d="M50,810 L165,750 M110,920 L225,870" /><ellipse vector-effect="non-scaling-stroke" cx="85" cy="860" rx="38" ry="62" transform="rotate(-20 85 860)" /><path vector-effect="non-scaling-stroke" d="M110,790 Q90,850 130,910" /><path vector-effect="non-scaling-stroke" d="M140,776 Q120,836 160,896" /><path vector-effect="non-scaling-stroke" d="M170,762 Q150,822 190,882" /><path vector-effect="non-scaling-stroke" d="M200,748 Q180,808 220,868" /><ellipse vector-effect="non-scaling-stroke" cx="238" cy="768" rx="62" ry="150" transform="rotate(-22 238 768)" /><ellipse vector-effect="non-scaling-stroke" cx="252" cy="765" rx="52" ry="138" transform="rotate(-22 252 765)" /><path vector-effect="non-scaling-stroke" d="M215,690 L345,605 L385,630 L460,760 L420,830 L330,880 L250,820 Z M335,665 L330,770 L410,835 M330,770 L250,820 M215,690 L335,665 L385,630" /><path vector-effect="non-scaling-stroke" d="M385,635 L760,460 M455,760 L800,590" /><path vector-effect="non-scaling-stroke" d="M530,575 Q505,640 570,690" /><path vector-effect="non-scaling-stroke" d="M575,553 Q550,618 615,668" /><path vector-effect="non-scaling-stroke" d="M620,531 Q595,596 660,646" /><path vector-effect="non-scaling-stroke" d="M665,509 Q640,574 705,624" /><path vector-effect="non-scaling-stroke" d="M710,487 Q685,552 750,602" /><path vector-effect="non-scaling-stroke" d="M755,465 Q730,530 795,580" /><path vector-effect="non-scaling-stroke" d="M740,470 L820,450 L855,500 L840,530 L780,555" /><ellipse vector-effect="non-scaling-stroke" cx="770" cy="515" rx="38" ry="55" transform="rotate(-20 770 515)" /><ellipse vector-effect="non-scaling-stroke" cx="780" cy="510" rx="25" ry="40" transform="rotate(-20 780 510)" /><path vector-effect="non-scaling-stroke" d="M930,330 L1045,280 M930,330 Q880,360 885,430 Q895,510 960,525 Q990,530 1020,520 L1120,470" /><path vector-effect="non-scaling-stroke" d="M1045,230 L1105,195 L1240,170 L1335,275 L1310,410 L1130,470 L1100,460 L1020,350 Z M1105,200 L1025,345 L1110,460" /><ellipse vector-effect="non-scaling-stroke" cx="1205" cy="300" rx="105" ry="110" transform="rotate(-15 1205 300)" /><ellipse vector-effect="non-scaling-stroke" cx="1205" cy="305" rx="80" ry="85" transform="rotate(-15 1205 305)" /><ellipse vector-effect="non-scaling-stroke" cx="1200" cy="305" rx="58" ry="65" transform="rotate(-15 1200 305)" /><ellipse vector-effect="non-scaling-stroke" cx="1195" cy="310" rx="35" ry="50" transform="rotate(-15 1195 310)" /><path vector-effect="non-scaling-stroke" d="M1380,135 L1560,50 Q1640,50 1660,150 Q1665,200 1640,210 L1450,290 Q1385,280 1380,200 Z" /><ellipse vector-effect="non-scaling-stroke" cx="1600" cy="130" rx="62" ry="85" transform="rotate(-20 1600 130)" /><ellipse vector-effect="non-scaling-stroke" cx="1605" cy="130" rx="45" ry="65" transform="rotate(-20 1605 130)" /><path vector-effect="non-scaling-stroke" d="M1420,115 Q1400,200 1450,275" /><path vector-effect="non-scaling-stroke" d="M1460,97 Q1440,182 1490,257" /><path vector-effect="non-scaling-stroke" d="M1500,79 Q1480,164 1530,239" /></g>
<g transform="translate(1860,460) scale(0.137143)" fill="none" stroke="#000" stroke-width="1.3" stroke-linejoin="round" stroke-linecap="round"><path vector-effect="non-scaling-stroke" d="M165,220 L320,135 Q370,130 395,170 L630,660 L755,1120 Q760,1180 730,1200 L560,1300 Q540,1290 530,1260 L400,960 Q300,820 270,740 L270,590 Q240,450 190,380 Q160,330 165,220 Z" /><path vector-effect="non-scaling-stroke" d="M165,240 L200,255 L330,175 M200,255 L575,1280 M180,250 L560,1290" /><path vector-effect="non-scaling-stroke" d="M345,170 L615,665 L735,1150 M380,165 L632,660" /><path vector-effect="non-scaling-stroke" d="M730,1200 L700,1210 L580,1280" /><path vector-effect="non-scaling-stroke" d="M260,385 L360,340 M290,470 L450,400 M380,710 L600,670 M415,740 L520,710 M485,960 L610,875" /><path vector-effect="non-scaling-stroke" d="M350,630 Q440,620 470,680 Q500,760 430,850 M330,180 Q350,260 400,300 Q460,400 470,520 Q470,620 460,680 M480,620 L520,740 L590,870 L700,1210" /><ellipse vector-effect="non-scaling-stroke" cx="610" cy="1170" rx="50" ry="65" transform="rotate(-10 610 1170)" /><ellipse vector-effect="non-scaling-stroke" cx="615" cy="1170" rx="35" ry="48" transform="rotate(-10 615 1170)" /></g>
<g transform="translate(120,1370) scale(0.342857)" fill="none" stroke="#000" stroke-width="1.3" stroke-linejoin="round" stroke-linecap="round"><path vector-effect="non-scaling-stroke" d="M705,500 L1660,75 M725,550 L1680,125" /><path vector-effect="non-scaling-stroke" d="M705,500 Q690,530 705,545 Q715,555 725,550" /><ellipse vector-effect="non-scaling-stroke" cx="1668" cy="98" rx="27" ry="30" /><ellipse vector-effect="non-scaling-stroke" cx="355" cy="680" rx="88" ry="100" transform="rotate(-10 355 680)" /><ellipse vector-effect="non-scaling-stroke" cx="358" cy="680" rx="82" ry="95" transform="rotate(-10 358 680)" /><ellipse vector-effect="non-scaling-stroke" cx="372" cy="672" rx="45" ry="55" transform="rotate(-15 372 672)" /><ellipse vector-effect="non-scaling-stroke" cx="380" cy="668" rx="35" ry="45" transform="rotate(-15 380 668)" /><path vector-effect="non-scaling-stroke" d="M345,640 L545,550 M395,715 L590,615" /><ellipse vector-effect="non-scaling-stroke" cx="565" cy="585" rx="28" ry="37" transform="rotate(-15 565 585)" /><ellipse vector-effect="non-scaling-stroke" cx="565" cy="585" rx="18" ry="25" transform="rotate(-15 565 585)" /><ellipse vector-effect="non-scaling-stroke" cx="563" cy="588" rx="10" ry="12" /></g>
<g transform="translate(1700,1390) scale(0.171429)" fill="none" stroke="#000" stroke-width="1.3" stroke-linejoin="round" stroke-linecap="round"><path vector-effect="non-scaling-stroke" d="M650,215 L750,178 M668,270 L772,238" /><path vector-effect="non-scaling-stroke" d="M650,215 Q632,245 668,270 M680,205 Q665,235 695,262 M710,195 Q695,225 725,252 M740,185 Q725,215 755,242" /><ellipse vector-effect="non-scaling-stroke" cx="820" cy="162" rx="65" ry="97" transform="rotate(-15 820 162)" /><path vector-effect="non-scaling-stroke" d="M780,112 L830,80 L880,92 L910,150 L905,205 L860,218 L810,205 L780,150 Z" /><path vector-effect="non-scaling-stroke" d="M780,150 L828,128 L880,95 M828,128 L830,212" /><ellipse vector-effect="non-scaling-stroke" cx="862" cy="150" rx="42" ry="62" transform="rotate(-15 862 150)" /></g>
<g transform="translate(132,135.4)"><g transform="translate(1700,1390) scale(0.171429)" fill="none" stroke="#000" stroke-width="1.3" stroke-linejoin="round" stroke-linecap="round"><path vector-effect="non-scaling-stroke" d="M650,215 L750,178 M668,270 L772,238" /><path vector-effect="non-scaling-stroke" d="M650,215 Q632,245 668,270 M680,205 Q665,235 695,262 M710,195 Q695,225 725,252 M740,185 Q725,215 755,242" /><ellipse vector-effect="non-scaling-stroke" cx="820" cy="162" rx="65" ry="97" transform="rotate(-15 820 162)" /><path vector-effect="non-scaling-stroke" d="M780,112 L830,80 L880,92 L910,150 L905,205 L860,218 L810,205 L780,150 Z" /><path vector-effect="non-scaling-stroke" d="M780,150 L828,128 L880,95 M828,128 L830,212" /><ellipse vector-effect="non-scaling-stroke" cx="862" cy="150" rx="42" ry="62" transform="rotate(-15 862 150)" /></g></g>
<g transform="translate(1500,1450) scale(0.205714)" fill="none" stroke="#000" stroke-width="1.3" stroke-linejoin="round" stroke-linecap="round"><path vector-effect="non-scaling-stroke" d="M430,200 Q450,150 510,145 Q560,150 600,190 Q630,215 660,210 L770,155 Q830,130 880,140 Q950,160 1000,210" /><path vector-effect="non-scaling-stroke" d="M430,200 L415,320 Q400,360 360,410 Q320,470 315,560 Q315,650 350,730 Q390,800 395,850 Q390,900 360,940 Q340,990 350,1040 Q370,1090 420,1100 L490,1105 Q530,1115 560,1160 L660,1350 Q700,1410 790,1440 L900,1420 Q940,1420 970,1450 Q1000,1490 1040,1495 Q1090,1490 1120,1450 Q1135,1400 1130,1330" stroke-width="2"/><path vector-effect="non-scaling-stroke" d="M445,205 Q460,165 510,162 Q555,165 590,205 Q625,235 665,228 L775,172 Q830,150 880,158 Q940,175 985,215" /><path vector-effect="non-scaling-stroke" d="M432,325 Q415,370 375,420 Q335,480 332,560 Q332,645 365,720 Q405,795 412,850 Q405,905 378,945 Q358,990 366,1035 Q385,1075 425,1085 L495,1090 Q540,1100 575,1150 L675,1340 Q715,1395 790,1422 L900,1405 Q945,1405 980,1440 Q1010,1475 1040,1478 Q1080,1472 1105,1440 Q1118,1400 1115,1335" /><path vector-effect="non-scaling-stroke" d="M1000,210 L1200,215 Q1300,240 1390,290 Q1420,320 1430,360 L1580,880 Q1590,920 1570,960 Q1540,1010 1510,1040 Q1460,1080 1400,1110 L1130,1250 Q1100,1280 1085,1320 L1080,1330" /><path vector-effect="non-scaling-stroke" d="M500,400 L740,270 M770,245 Q850,225 1050,215 M430,430 Q390,490 390,560 Q390,640 410,700 M430,735 L690,1250 Q720,1320 790,1350 L1080,1330" /><path vector-effect="non-scaling-stroke" d="M800,385 L1040,255 M910,580 L1370,315 M760,410 Q750,440 750,470 Q760,520 840,605 M890,655 L1140,1160 M1200,1165 L1560,965 M435,530 L730,505" /><path vector-effect="non-scaling-stroke" d="M975,640 Q980,600 1020,590 L1350,400 Q1400,390 1420,430 L1535,870 Q1540,910 1510,935 L1200,1090 Q1160,1095 1140,1060 Z" /><path vector-effect="non-scaling-stroke" d="M992,645 Q995,612 1028,603 L1352,418 Q1392,410 1405,442 L1518,868 Q1522,900 1498,920 L1198,1072 Q1168,1076 1152,1050 Z" /><ellipse vector-effect="non-scaling-stroke" cx="500" cy="270" rx="30" ry="40" transform="rotate(-10 500 270)" /><ellipse vector-effect="non-scaling-stroke" cx="432" cy="1000" rx="30" ry="40" transform="rotate(-10 432 1000)" /><ellipse vector-effect="non-scaling-stroke" cx="1015" cy="1375" rx="30" ry="40" transform="rotate(-10 1015 1375)" /></g>
<g transform="translate(1690,1520) scale(0.097143)" fill="none" stroke="#000" stroke-width="2.4" stroke-linejoin="round" stroke-linecap="round"><path vector-effect="non-scaling-stroke" d="M260,700 Q300,600 420,580 Q480,580 510,660 L540,860 Q530,940 440,985 Q360,1010 320,980 Q270,930 260,820 Z" /><path vector-effect="non-scaling-stroke" d="M345,740 L410,690 Q450,700 460,760 L470,840 Q460,880 400,900 Q370,890 360,850 Z" /><path vector-effect="non-scaling-stroke" d="M505,535 L590,490 L630,600 L690,565 L650,440 L725,405 L805,760 L730,795 L705,680 L665,700 L670,845 L595,880 Z" /><path vector-effect="non-scaling-stroke" d="M760,385 L835,345 L925,510 L930,290 L1005,250 L1015,640 L905,695 Z" /><path vector-effect="non-scaling-stroke" d="M510,1200 Q560,1100 620,1080 L740,870 L980,880 L1000,860 L1090,860 L1160,990 L1060,1100 L950,1330 L880,1350 L640,1340 L570,1340 Z" /><path vector-effect="non-scaling-stroke" d="M590,1210 L770,945 L1080,940 L1100,1000 L920,1275 L640,1280 Z" /><path vector-effect="non-scaling-stroke" d="M620,1180 L1060,960 M700,1250 L1080,1020 M610,1200 L1070,975" /></g>
<g transform="translate(-131.5,1840.3)"><g transform="translate(1070,380) scale(0.137143)" fill="none" stroke="#000" stroke-width="1.3" stroke-linejoin="round" stroke-linecap="round"><path vector-effect="non-scaling-stroke" d="M350,495 L400,490 L560,520 Q620,550 640,580 L880,950 L890,960 L905,1095 L850,1095 L680,1070 Q630,1050 610,1020 L365,640 L345,580 Z" /><path vector-effect="non-scaling-stroke" d="M652,568 L888,932 M888,932 L892,958" /><ellipse vector-effect="non-scaling-stroke" cx="435" cy="628" rx="25" ry="62" transform="rotate(-20 435 628)" /><ellipse vector-effect="non-scaling-stroke" cx="620" cy="800" rx="75" ry="175" transform="rotate(-20 620 800)" /><ellipse vector-effect="non-scaling-stroke" cx="805" cy="960" rx="25" ry="62" transform="rotate(-20 805 960)" /></g></g>
<g transform="translate(269.4,1895.2)"><g transform="translate(585,460) scale(0.154286)" fill="none" stroke="#000" stroke-width="1.3" stroke-linejoin="round" stroke-linecap="round"><ellipse vector-effect="non-scaling-stroke" cx="1152" cy="412" rx="140" ry="200" transform="rotate(-18 1152 412)" /><ellipse vector-effect="non-scaling-stroke" cx="1158" cy="410" rx="125" ry="185" transform="rotate(-18 1158 410)" /><ellipse vector-effect="non-scaling-stroke" cx="1140" cy="425" rx="92" ry="125" transform="rotate(-20 1140 425)" /><ellipse vector-effect="non-scaling-stroke" cx="1165" cy="422" rx="62" ry="108" transform="rotate(-20 1165 422)" /></g></g>
<path d="M1266,870 L1278,865 L1280,869 L1268,875 Z M1332,838 L1344,833 L1346,837 L1334,843 Z" fill="#000"/>
</svg></body></html>
